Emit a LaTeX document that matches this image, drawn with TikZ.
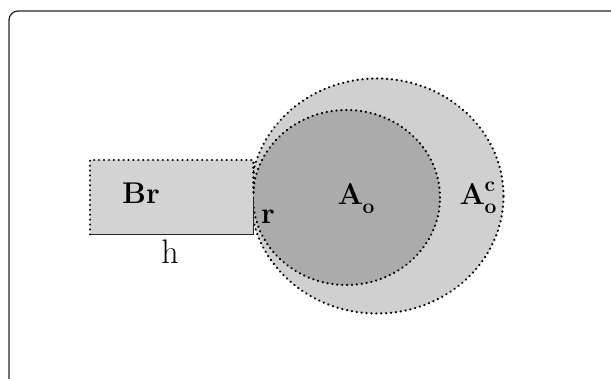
\documentclass[tikz,border=0pt]{standalone}
\usepackage{fontspec}
\usetikzlibrary{shapes.geometric}
\definecolor{outerfill}{HTML}{D0D0D0}
\definecolor{innerfill}{HTML}{ABABAB}
\definecolor{rectfill}{HTML}{D3D3D3}
\tikzset{
  dotline/.style={line width=2.5pt, dash pattern=on 0.01pt off 4.9pt, line cap=round, draw=black},
  lbl/.style={font=\fontsize{30}{34}\selectfont\bfseries, inner sep=0pt},
  frame/.style={line width=1.3pt, rounded corners=9pt, draw=black!85},
}
\newcommand{\bsub}[1]{\raisebox{-0.3em}{\fontsize{21}{24}\selectfont\bfseries #1}}
\newcommand{\bsup}[1]{\raisebox{0.42em}{\fontsize{21}{24}\selectfont\bfseries #1}}
\begin{document}
\begin{tikzpicture}[x=1pt,y=-1pt]
\useasboundingbox (0,0) rectangle (611,379);
\clip (0,0) rectangle (611,379);
\draw[frame] (9,11) rectangle (625,392);
% outer ellipse
\node[ellipse, fill=outerfill, dotline, minimum width=253pt, minimum height=235pt, inner sep=0pt] (outer) at (377,196) {};
% inner ellipse
\node[ellipse, fill=innerfill, dotline, minimum width=187pt, minimum height=175pt, inner sep=0pt] (inner) at (346.5,197.5) {};
% rectangle Br
\node[rectangle, fill=rectfill, minimum width=163pt, minimum height=74pt, inner sep=0pt, anchor=north west] (br) at (90,160) {};
\draw[dotline] (br.south west) -- (br.north west) -- (br.north east) -- ([yshift=-34pt]br.north east);
\coordinate (rtop) at ([yshift=-38pt]br.north east);
\draw[line width=1.7pt, draw=black!85] (rtop) -- (br.south east) -- (br.south west);
% labels
\node[lbl] (lbr) at (141,193) {Br};
\node[font=\fontsize{34}{38}\selectfont, inner sep=0pt] (lh) at (170,252) {h};
\node[lbl] (lr) at (268,217) {r};
\node[lbl] (lao) at (356,199) {A\kern-0.5pt\bsub{o}};
\node[lbl] (laoc) at (478,198) {A\kern-0.5pt\rlap{\bsup{c}}\bsub{o}};
\end{tikzpicture}
\end{document}
